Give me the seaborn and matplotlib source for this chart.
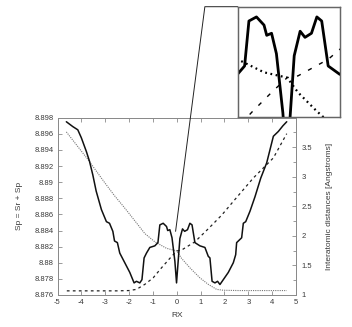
import numpy as np
import matplotlib
matplotlib.use("Agg")
import matplotlib.pyplot as plt
from matplotlib.lines import Line2D
import seaborn as sns

OUTPUT_FIG = "out.png"

# solid curve, left axis (Sp)
rx_sp = [-4.63, -4.36, -4.15, -4.00, -3.79, -3.66, -3.52, -3.38, -3.16, -2.95,
         -2.82, -2.68, -2.61, -2.49, -2.39, -2.18, -1.97, -1.79, -1.69, -1.55,
         -1.46, -1.37, -1.27, -1.13, -0.92, -0.79, -0.71, -0.57, -0.43, -0.38,
         -0.29, -0.20, -0.08, -0.01, 0.13, 0.24, 0.33, 0.45, 0.55, 0.64,
         0.76, 0.97, 1.18, 1.32, 1.39, 1.48, 1.60, 1.71, 1.81, 1.95,
         2.16, 2.37, 2.47, 2.51, 2.72, 2.79, 2.89, 3.07, 3.28, 3.52,
         3.77, 4.05, 4.26, 4.45, 4.61]
sp = [8.8975, 8.8969, 8.8965, 8.8955, 8.8938, 8.8926, 8.8909, 8.8889, 8.8866, 8.8851,
      8.8849, 8.8839, 8.8827, 8.8825, 8.8812, 8.8800, 8.8788, 8.8775, 8.8777, 8.8775,
      8.8779, 8.8806, 8.8812, 8.8819, 8.8821, 8.8825, 8.8847, 8.8849, 8.8845, 8.8840,
      8.8841, 8.8831, 8.8802, 8.8775, 8.8830, 8.8842, 8.8839, 8.8841, 8.8849, 8.8847,
      8.8825, 8.8821, 8.8819, 8.8808, 8.8806, 8.8777, 8.8775, 8.8777, 8.8773, 8.8779,
      8.8788, 8.8800, 8.8810, 8.8825, 8.8831, 8.8849, 8.8851, 8.8864, 8.8882, 8.8905,
      8.8924, 8.8957, 8.8963, 8.8970, 8.8975]

# dotted curve, right axis (decreasing distance)
rx_dot = [-4.63, -3.72, -3.02, -2.61, -2.26, -2.04, -1.34, -0.92, -0.43, 0.00,
          0.20, 0.55, 0.97, 1.32, 1.67, 1.95, 2.60, 3.50, 4.61]
dist_dot = [3.76, 3.29, 2.90, 2.68, 2.51, 2.40, 2.04, 1.90, 1.79, 1.745,
            1.62, 1.46, 1.29, 1.18, 1.095, 1.08, 1.075, 1.075, 1.075]

# dashed curve, right axis (increasing distance)
rx_dash = [-4.61, -3.45, -2.50, -2.00, -1.69, -1.34, -0.99, -0.64, -0.29, 0.00,
           0.20, 0.76, 1.32, 1.88, 2.51, 3.21, 4.05, 4.61]
dist_dash = [1.07, 1.07, 1.07, 1.075, 1.095, 1.18, 1.29, 1.46, 1.62, 1.745,
             1.76, 1.90, 2.12, 2.35, 2.65, 2.98, 3.32, 3.73]

x_ticks = list(range(-5, 6))
sp_ticks = [8.876 + 0.002 * i for i in range(12)]
dist_ticks = [1, 1.5, 2, 2.5, 3, 3.5]

# zoomed window shown in the inset
ZOOM_X = (-0.92, 0.98)
ZOOM_SP = (8.8800, 8.8854)
ZOOM_DIST = (1.411, 2.346)
ZOOM_ANCHOR = (-0.05, 8.8839)

sns.set_theme(style="ticks")
plt.rcParams["font.family"] = ["Liberation Sans", "DejaVu Sans"]
TEXT = "#3a3a3a"
SPINE = "#8a8a8a"

fig = plt.figure(figsize=(3.52, 3.27), dpi=100)
ax = fig.add_axes([0.1634, 0.0979, 0.6776, 0.5421])
ax2 = ax.twinx()

sns.lineplot(x=rx_sp, y=sp, ax=ax, color="#111111", linewidth=1.1,
             sort=False, estimator=None)
sns.lineplot(x=rx_dot, y=dist_dot, ax=ax2, color="#777777", linewidth=0.8,
             linestyle=(0, (1, 1)), sort=False, estimator=None)
sns.lineplot(x=rx_dash, y=dist_dash, ax=ax2, color="#222222", linewidth=0.9,
             linestyle=(0, (2.2, 2.6)), sort=False, estimator=None)

ax.set_xlim(-5, 5)
ax.set_ylim(8.876, 8.898)
ax2.set_ylim(1, 4)
ax.set_xticks(x_ticks)
ax.set_xticklabels([str(v) for v in x_ticks])
ax.set_yticks(sp_ticks)
ax.set_yticklabels([f"{v:.3f}".rstrip("0") for v in sp_ticks])
ax2.set_yticks(dist_ticks)
ax2.set_yticklabels([f"{v:g}" for v in dist_ticks])
ax2.set_yticks(np.arange(1.25, 4, 0.5), minor=True)

ax.tick_params(direction="in", length=3, width=0.6, color=SPINE, top=True,
               labelsize=5.5, labelcolor=TEXT, pad=3)
ax2.tick_params(direction="in", length=3, width=0.6, color=SPINE,
                labelsize=5.5, labelcolor=TEXT, pad=4)
ax2.tick_params(which="minor", direction="in", length=2, width=0.6, color=SPINE)

for a in (ax, ax2):
    for s in a.spines.values():
        s.set_color(SPINE)
        s.set_linewidth(0.7)

ax.set_xlabel("RX", fontsize=6, color=TEXT, labelpad=4)
ax.set_ylabel("Sp = Sr + Sp", fontsize=6, color=TEXT, labelpad=8)
ax2.set_ylabel("Interatomic distances [Angstroms]", fontsize=6, color=TEXT,
               labelpad=10)
ax.set_zorder(ax2.get_zorder() + 1)
ax.patch.set_visible(False)

# inset with the zoomed centre
ins = fig.add_axes([0.675, 0.642, 0.291, 0.3375])
ins2 = ins.twinx()
sns.lineplot(x=rx_sp, y=sp, ax=ins, color="#000000", linewidth=2.0,
             sort=False, estimator=None)
sns.lineplot(x=rx_dot, y=dist_dot, ax=ins2, color="#000000", linewidth=1.6,
             linestyle=(0, (0.8, 1.6)), sort=False, estimator=None)
sns.lineplot(x=rx_dash, y=dist_dash, ax=ins2, color="#000000", linewidth=1.0,
             linestyle=(0, (3, 6)), sort=False, estimator=None)
ins.set_xlim(*ZOOM_X)
ins.set_ylim(*ZOOM_SP)
ins2.set_ylim(*ZOOM_DIST)
for a in (ins, ins2):
    a.set_xticks([])
    a.set_yticks([])
    a.set_xlabel("")
    a.set_ylabel("")
    for s in a.spines.values():
        s.set_color("#666666")
        s.set_linewidth(0.9)
ins.set_zorder(ins2.get_zorder() + 1)
ins.patch.set_visible(False)

# connector line from the centre of the curve to the inset
start = fig.transFigure.inverted().transform(ax.transData.transform(ZOOM_ANCHOR))
corner = (0.675, 0.9795)
kink = (0.582, corner[1])
fig.add_artist(Line2D([start[0], kink[0], corner[0]], [start[1], kink[1], corner[1]],
                      transform=fig.transFigure, color="#222222", linewidth=0.7))

fig.savefig(OUTPUT_FIG, dpi=100)
plt.close(fig)
